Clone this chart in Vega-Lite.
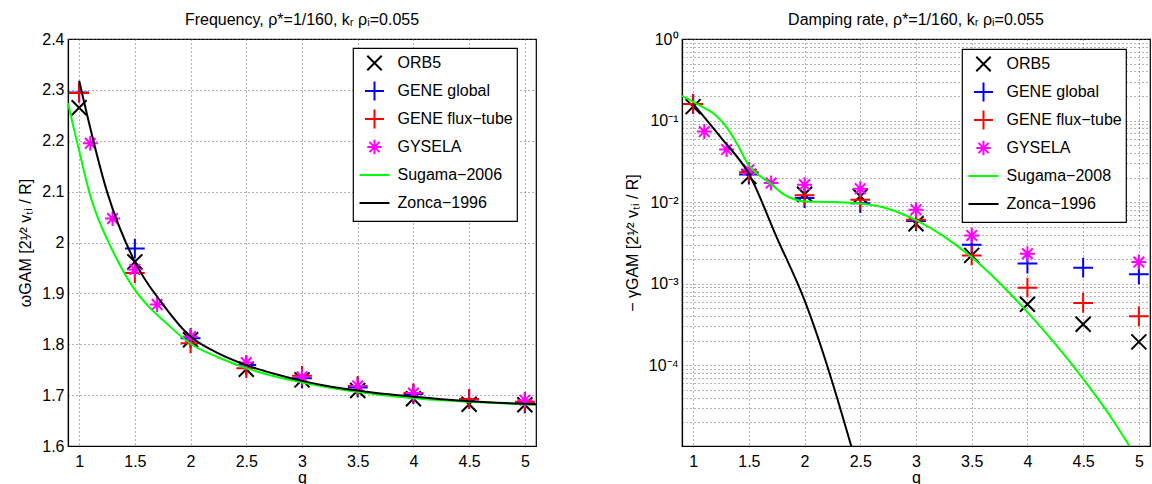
{
  "$schema": "https://vega.github.io/schema/vega-lite/v6.json",
  "background": "white",
  "padding": {"left": 17, "top": 11, "right": 0, "bottom": 0},
  "spacing": 86,
  "resolve": {"scale": {"color": "independent", "shape": "independent"}, "legend": {"color": "independent", "shape": "independent"}},
  "datasets": {
    "freqPoints": [
      {"series": "ORB5", "q": 1, "v": 2.265}, {"series": "ORB5", "q": 1.5, "v": 1.962}, {"series": "ORB5", "q": 2, "v": 1.809}, {"series": "ORB5", "q": 2.5, "v": 1.751}, {"series": "ORB5", "q": 3, "v": 1.73}, {"series": "ORB5", "q": 3.5, "v": 1.709}, {"series": "ORB5", "q": 4, "v": 1.693}, {"series": "ORB5", "q": 4.5, "v": 1.682}, {"series": "ORB5", "q": 5, "v": 1.681},
      {"series": "GENE global", "q": 1, "v": 2.295}, {"series": "GENE global", "q": 1.5, "v": 1.988}, {"series": "GENE global", "q": 2, "v": 1.812}, {"series": "GENE global", "q": 2.5, "v": 1.759}, {"series": "GENE global", "q": 3, "v": 1.733}, {"series": "GENE global", "q": 3.5, "v": 1.715}, {"series": "GENE global", "q": 4, "v": 1.702}, {"series": "GENE global", "q": 4.5, "v": 1.692}, {"series": "GENE global", "q": 5, "v": 1.684},
      {"series": "GENE flux−tube", "q": 1, "v": 2.294}, {"series": "GENE flux−tube", "q": 1.5, "v": 1.94}, {"series": "GENE flux−tube", "q": 2, "v": 1.802}, {"series": "GENE flux−tube", "q": 2.5, "v": 1.753}, {"series": "GENE flux−tube", "q": 3, "v": 1.738}, {"series": "GENE flux−tube", "q": 3.5, "v": 1.718}, {"series": "GENE flux−tube", "q": 4, "v": 1.704}, {"series": "GENE flux−tube", "q": 4.5, "v": 1.692}, {"series": "GENE flux−tube", "q": 5, "v": 1.687},
      {"series": "GYSELA", "q": 1.1, "v": 2.195}, {"series": "GYSELA", "q": 1.3, "v": 2.047}, {"series": "GYSELA", "q": 1.5, "v": 1.947}, {"series": "GYSELA", "q": 1.7, "v": 1.878}, {"series": "GYSELA", "q": 2, "v": 1.815}, {"series": "GYSELA", "q": 2.5, "v": 1.764}, {"series": "GYSELA", "q": 3, "v": 1.736}, {"series": "GYSELA", "q": 3.5, "v": 1.718}, {"series": "GYSELA", "q": 4, "v": 1.704}, {"series": "GYSELA", "q": 5, "v": 1.69}
    ],
    "freqLines": [
      {"series": "Sugama−2006", "q": 0.9, "v": 2.274}, {"series": "Sugama−2006", "q": 0.95, "v": 2.226}, {"series": "Sugama−2006", "q": 1.0, "v": 2.181}, {"series": "Sugama−2006", "q": 1.05, "v": 2.134}, {"series": "Sugama−2006", "q": 1.1, "v": 2.092}, {"series": "Sugama−2006", "q": 1.175, "v": 2.045}, {"series": "Sugama−2006", "q": 1.25, "v": 2.007}, {"series": "Sugama−2006", "q": 1.375, "v": 1.952}, {"series": "Sugama−2006", "q": 1.5, "v": 1.907}, {"series": "Sugama−2006", "q": 1.625, "v": 1.874}, {"series": "Sugama−2006", "q": 1.75, "v": 1.848}, {"series": "Sugama−2006", "q": 2.0, "v": 1.801}, {"series": "Sugama−2006", "q": 2.25, "v": 1.774}, {"series": "Sugama−2006", "q": 2.5, "v": 1.753}, {"series": "Sugama−2006", "q": 2.75, "v": 1.737}, {"series": "Sugama−2006", "q": 3.0, "v": 1.725}, {"series": "Sugama−2006", "q": 3.5, "v": 1.706}, {"series": "Sugama−2006", "q": 4.0, "v": 1.694}, {"series": "Sugama−2006", "q": 4.5, "v": 1.687}, {"series": "Sugama−2006", "q": 5.0, "v": 1.682}, {"series": "Sugama−2006", "q": 5.1, "v": 1.681},
      {"series": "Zonca−1996", "q": 1.0, "v": 2.318}, {"series": "Zonca−1996", "q": 1.25, "v": 2.1}, {"series": "Zonca−1996", "q": 1.5, "v": 1.962}, {"series": "Zonca−1996", "q": 1.75, "v": 1.879}, {"series": "Zonca−1996", "q": 2.0, "v": 1.815}, {"series": "Zonca−1996", "q": 2.25, "v": 1.782}, {"series": "Zonca−1996", "q": 2.5, "v": 1.759}, {"series": "Zonca−1996", "q": 2.75, "v": 1.742}, {"series": "Zonca−1996", "q": 3.0, "v": 1.728}, {"series": "Zonca−1996", "q": 3.25, "v": 1.717}, {"series": "Zonca−1996", "q": 3.5, "v": 1.709}, {"series": "Zonca−1996", "q": 3.75, "v": 1.702}, {"series": "Zonca−1996", "q": 4.0, "v": 1.697}, {"series": "Zonca−1996", "q": 4.25, "v": 1.692}, {"series": "Zonca−1996", "q": 4.5, "v": 1.688}, {"series": "Zonca−1996", "q": 4.75, "v": 1.685}, {"series": "Zonca−1996", "q": 5.0, "v": 1.683}, {"series": "Zonca−1996", "q": 5.25, "v": 1.681}
    ],
    "dampPoints": [
      {"series": "ORB5", "q": 1, "v": 0.148}, {"series": "ORB5", "q": 1.5, "v": 0.0206}, {"series": "ORB5", "q": 2, "v": 0.0125}, {"series": "ORB5", "q": 2.5, "v": 0.0118}, {"series": "ORB5", "q": 3, "v": 0.00542}, {"series": "ORB5", "q": 3.5, "v": 0.00222}, {"series": "ORB5", "q": 4, "v": 0.000558}, {"series": "ORB5", "q": 4.5, "v": 0.000318}, {"series": "ORB5", "q": 5, "v": 0.000193},
      {"series": "GENE global", "q": 1, "v": 0.16}, {"series": "GENE global", "q": 1.5, "v": 0.0218}, {"series": "GENE global", "q": 2, "v": 0.0112}, {"series": "GENE global", "q": 2.5, "v": 0.0097}, {"series": "GENE global", "q": 3, "v": 0.00585}, {"series": "GENE global", "q": 3.5, "v": 0.003}, {"series": "GENE global", "q": 4, "v": 0.00176}, {"series": "GENE global", "q": 4.5, "v": 0.00157}, {"series": "GENE global", "q": 5, "v": 0.0013},
      {"series": "GENE flux−tube", "q": 1, "v": 0.16}, {"series": "GENE flux−tube", "q": 1.5, "v": 0.0233}, {"series": "GENE flux−tube", "q": 2, "v": 0.0121}, {"series": "GENE flux−tube", "q": 2.5, "v": 0.0107}, {"series": "GENE flux−tube", "q": 3, "v": 0.00607}, {"series": "GENE flux−tube", "q": 3.5, "v": 0.00222}, {"series": "GENE flux−tube", "q": 4, "v": 0.000893}, {"series": "GENE flux−tube", "q": 4.5, "v": 0.000579}, {"series": "GENE flux−tube", "q": 5, "v": 0.000398},
      {"series": "GYSELA", "q": 1.1, "v": 0.0733}, {"series": "GYSELA", "q": 1.3, "v": 0.0441}, {"series": "GYSELA", "q": 1.5, "v": 0.0249}, {"series": "GYSELA", "q": 1.7, "v": 0.0171}, {"series": "GYSELA", "q": 2, "v": 0.0163}, {"series": "GYSELA", "q": 2.5, "v": 0.0146}, {"series": "GYSELA", "q": 3, "v": 0.00806}, {"series": "GYSELA", "q": 3.5, "v": 0.0039}, {"series": "GYSELA", "q": 4, "v": 0.00233}, {"series": "GYSELA", "q": 5, "v": 0.00184}
    ],
    "dampLines": [
      {"series": "Sugama−2008", "q": 0.9, "v": 0.2}, {"series": "Sugama−2008", "q": 1.0, "v": 0.17}, {"series": "Sugama−2008", "q": 1.1, "v": 0.143}, {"series": "Sugama−2008", "q": 1.2, "v": 0.117}, {"series": "Sugama−2008", "q": 1.3, "v": 0.083}, {"series": "Sugama−2008", "q": 1.4, "v": 0.05}, {"series": "Sugama−2008", "q": 1.5, "v": 0.0282}, {"series": "Sugama−2008", "q": 1.6, "v": 0.0209}, {"series": "Sugama−2008", "q": 1.7, "v": 0.0166}, {"series": "Sugama−2008", "q": 1.8, "v": 0.0128}, {"series": "Sugama−2008", "q": 1.9, "v": 0.0109}, {"series": "Sugama−2008", "q": 2.0, "v": 0.0102}, {"series": "Sugama−2008", "q": 2.25, "v": 0.01}, {"series": "Sugama−2008", "q": 2.5, "v": 0.0096}, {"series": "Sugama−2008", "q": 2.75, "v": 0.0083}, {"series": "Sugama−2008", "q": 3.0, "v": 0.006}, {"series": "Sugama−2008", "q": 3.25, "v": 0.0038}, {"series": "Sugama−2008", "q": 3.5, "v": 0.0021}, {"series": "Sugama−2008", "q": 3.75, "v": 0.00102}, {"series": "Sugama−2008", "q": 4.0, "v": 0.000447}, {"series": "Sugama−2008", "q": 4.25, "v": 0.000182}, {"series": "Sugama−2008", "q": 4.5, "v": 0.000068}, {"series": "Sugama−2008", "q": 4.75, "v": 0.000023}, {"series": "Sugama−2008", "q": 4.9, "v": 0.000011}, {"series": "Sugama−2008", "q": 5.0, "v": 0.0000066},
      {"series": "Zonca−1996", "q": 1.0, "v": 0.16}, {"series": "Zonca−1996", "q": 1.25, "v": 0.0617}, {"series": "Zonca−1996", "q": 1.5, "v": 0.0222}, {"series": "Zonca−1996", "q": 1.75, "v": 0.0037}, {"series": "Zonca−1996", "q": 2.0, "v": 0.000624}, {"series": "Zonca−1996", "q": 2.5, "v": 0.0000042}
    ]
  },
  "hconcat": [
    {
      "width": 468,
      "height": 407,
      "title": {"text": "Frequency, ρ*=1/160, kᵣ ρᵢ=0.055"},
      "layer": [
        {
          "data": {"name": "freqPoints"},
          "mark": {"type": "point", "filled": false, "strokeWidth": 2, "opacity": 1, "clip": true, "size": 434},
          "encoding": {
            "x": {"field": "q", "type": "quantitative", "scale": {"domain": [0.9, 5.1], "nice": false, "zero": false}, "axis": {"title": "q", "values": [1, 1.5, 2, 2.5, 3, 3.5, 4, 4.5, 5], "format": ".1~f"}},
            "y": {"field": "v", "type": "quantitative", "scale": {"domain": [1.6, 2.4], "nice": false, "zero": false}, "axis": {"title": "ωGAM [2¹⁄² vₜᵢ / R]", "values": [1.6, 1.7, 1.8, 1.9, 2, 2.1, 2.2, 2.3, 2.4], "format": ".1~f"}},
            "color": {"field": "series", "type": "nominal", "scale": {"domain": ["ORB5", "GENE global", "GENE flux−tube", "GYSELA", "Sugama−2006", "Zonca−1996"], "range": ["#000000", "#0000ff", "#ff0000", "#ff00ff", "#00ff00", "#000000"]},
              "legend": {"title": null, "orient": "none", "legendX": 285, "legendY": 9}},
            "shape": {"field": "series", "type": "nominal", "scale": {"domain": ["ORB5", "GENE global", "GENE flux−tube", "GYSELA", "Sugama−2006", "Zonca−1996"], "range": ["M-1,-1M1,1M-0.72,-0.72L0.72,0.72M-0.72,0.72L0.72,-0.72", "M-1,-1M1,1M-0.95,0L0.95,0M0,-0.95L0,0.95", "M-1,-1M1,1M-0.95,0L0.95,0M0,-0.95L0,0.95", "M-1,-1M1,1M-0.72,0L0.72,0M0,-0.72L0,0.72M-0.51,-0.51L0.51,0.51M-0.51,0.51L0.51,-0.51", "M-1,-1M1,1M-1.5,0L1.5,0", "M-1,-1M1,1M-1.5,0L1.5,0"]},
              "legend": {"title": null, "orient": "none", "legendX": 285, "legendY": 9}}
          }
        },
        {
          "data": {"name": "freqLines"},
          "mark": {"type": "line", "strokeWidth": 2, "clip": true, "interpolate": "monotone"},
          "encoding": {
            "x": {"field": "q", "type": "quantitative"},
            "y": {"field": "v", "type": "quantitative"},
            "color": {"field": "series", "type": "nominal"}
          }
        }
      ]
    },
    {
      "width": 468,
      "height": 407,
      "title": {"text": "Damping rate, ρ*=1/160, kᵣ ρᵢ=0.055"},
      "layer": [
        {
          "data": {"name": "dampPoints"},
          "mark": {"type": "point", "filled": false, "strokeWidth": 2, "opacity": 1, "clip": true, "size": 434},
          "encoding": {
            "x": {"field": "q", "type": "quantitative", "scale": {"domain": [0.9, 5.1], "nice": false, "zero": false}, "axis": {"title": "q", "values": [1, 1.5, 2, 2.5, 3, 3.5, 4, 4.5, 5], "format": ".1~f"}},
            "y": {"field": "v", "type": "quantitative", "scale": {"type": "log", "domain": [0.0000102, 1], "nice": false}, "axis": {"title": "− γGAM [2¹⁄² vₜᵢ / R]", "labelOverlap": false, "values": [0.00002, 0.00003, 0.00004, 0.00005, 0.00006, 0.00007, 0.00008, 0.00009, 0.0001, 0.0002, 0.0003, 0.0004, 0.0005, 0.0006, 0.0007, 0.0008, 0.0009, 0.001, 0.002, 0.003, 0.004, 0.005, 0.006, 0.007, 0.008, 0.009, 0.01, 0.02, 0.03, 0.04, 0.05, 0.06, 0.07, 0.08, 0.09, 0.1, 0.2, 0.3, 0.4, 0.5, 0.6, 0.7, 0.8, 0.9, 1], "labelExpr": "abs(log(datum.value)/LN10 - round(log(datum.value)/LN10)) < 0.0001 ? '10' + ['⁰','⁻¹','⁻²','⁻³','⁻⁴','⁻⁵'][-round(log(datum.value)/LN10)] : ''"}},
            "color": {"field": "series", "type": "nominal", "scale": {"domain": ["ORB5", "GENE global", "GENE flux−tube", "GYSELA", "Sugama−2008", "Zonca−1996"], "range": ["#000000", "#0000ff", "#ff0000", "#ff00ff", "#00ff00", "#000000"]},
              "legend": {"title": null, "orient": "none", "legendX": 280, "legendY": 10}},
            "shape": {"field": "series", "type": "nominal", "scale": {"domain": ["ORB5", "GENE global", "GENE flux−tube", "GYSELA", "Sugama−2008", "Zonca−1996"], "range": ["M-1,-1M1,1M-0.72,-0.72L0.72,0.72M-0.72,0.72L0.72,-0.72", "M-1,-1M1,1M-0.95,0L0.95,0M0,-0.95L0,0.95", "M-1,-1M1,1M-0.95,0L0.95,0M0,-0.95L0,0.95", "M-1,-1M1,1M-0.72,0L0.72,0M0,-0.72L0,0.72M-0.51,-0.51L0.51,0.51M-0.51,0.51L0.51,-0.51", "M-1,-1M1,1M-1.5,0L1.5,0", "M-1,-1M1,1M-1.5,0L1.5,0"]},
              "legend": {"title": null, "orient": "none", "legendX": 280, "legendY": 10}}
          }
        },
        {
          "data": {"name": "dampLines"},
          "mark": {"type": "line", "strokeWidth": 2, "clip": true, "interpolate": "monotone"},
          "encoding": {
            "x": {"field": "q", "type": "quantitative"},
            "y": {"field": "v", "type": "quantitative"},
            "color": {"field": "series", "type": "nominal"}
          }
        }
      ]
    }
  ],
  "config": {
    "font": "Liberation Sans",
    "view": {"stroke": "black", "strokeWidth": 1.2},
    "title": {"fontSize": 16, "fontWeight": "normal", "color": "black", "offset": 3},
    "axis": {
      "grid": true, "gridColor": "#666666", "gridDash": [1, 3], "gridWidth": 1,
      "domainColor": "black", "domainWidth": 1.2,
      "ticks": false, "labelPadding": 7,
      "labelFontSize": 16, "labelColor": "black",
      "titleFontSize": 16, "titleFontWeight": "normal", "titleColor": "black"
    },
    "axisX": {"titlePadding": 0},
    "axisY": {"titlePadding": 8, "labelPadding": 4},
    "legend": {
      "strokeColor": "black", "strokeWidth": 1.2, "fillColor": "white", "padding": 4,
      "labelFontSize": 16, "labelColor": "black", "labelOffset": 12, "labelLimit": 300,
      "symbolSize": 400, "symbolOffset": 6.5, "rowPadding": 0, "symbolOpacity": 1, "symbolStrokeWidth": 2, "symbolFillColor": "transparent"
    }
  }
}
